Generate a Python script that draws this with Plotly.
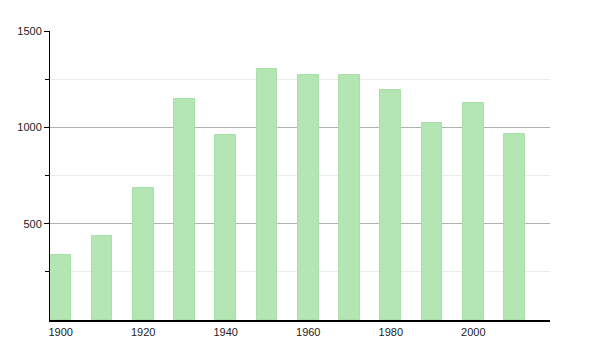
import plotly.graph_objects as go

years = [1900, 1910, 1920, 1930, 1940, 1950, 1960, 1970, 1980, 1990, 2000, 2010]
population = [337, 437, 685, 1145, 960, 1302, 1273, 1271, 1193, 1021, 1126, 965]
x_ticks = [1900, 1920, 1940, 1960, 1980, 2000]
y_ticks = [500, 1000, 1500]
y_minor = [250, 750, 1250]

fig = go.Figure()
fig.add_trace(go.Bar(
    x=years, y=population, width=5,
    marker=dict(color="#b3e6b3", line=dict(color="#aadfaa", width=1)),
    hoverinfo="x+y",
))

tick_font = dict(family="Liberation Sans, Arial, sans-serif", size=11, color="#222222")

fig.update_layout(
    width=600, height=350,
    margin=dict(l=50, r=50, t=31, b=30),
    paper_bgcolor="white", plot_bgcolor="white",
    font=dict(family="Liberation Sans, Arial, sans-serif", size=11, color="#222"),
    showlegend=False,
    bargap=0,
    xaxis=dict(
        range=[1897.4, 2018.6],
        tickmode="array", tickvals=x_ticks, ticktext=[str(t) for t in x_ticks],
        tickfont=tick_font,
        showgrid=False, zeroline=False,
        showline=True, linecolor="black", linewidth=1.5,
        ticks="", ticklabelstandoff=1,
    ),
    yaxis=dict(
        range=[0, 1500],
        tickmode="array", tickvals=y_ticks, ticktext=[str(t) for t in y_ticks],
        tickfont=tick_font,
        showgrid=True, gridcolor="#b0b0b0", gridwidth=1,
        zeroline=False,
        showline=True, linecolor="black", linewidth=1,
        ticks="outside", ticklen=5, tickcolor="black", tickwidth=1,
        minor=dict(tickvals=y_minor, showgrid=True, gridcolor="#ececec",
                   ticks="outside", ticklen=4, tickcolor="black", tickwidth=1),
    ),
)

fig.write_html("out.html")
